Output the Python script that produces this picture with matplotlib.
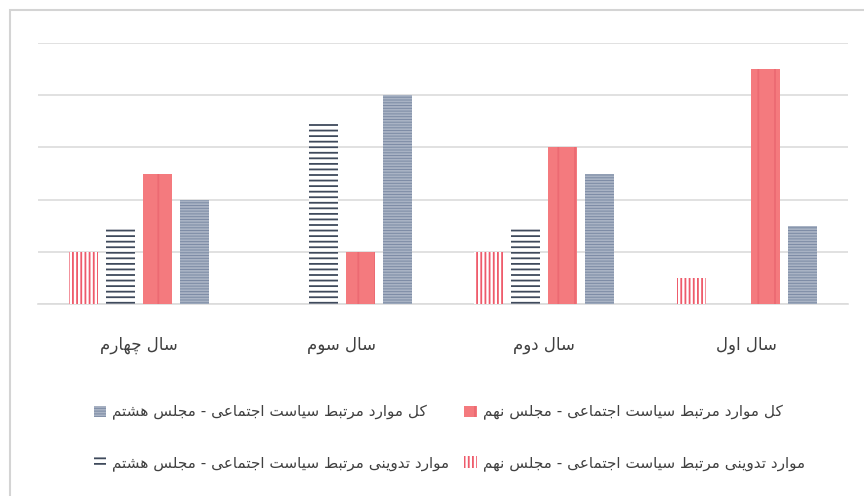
"""Grouped bar chart: social-policy items, 8th vs 9th Majlis, by year."""

import matplotlib

matplotlib.use("Agg")
import matplotlib.pyplot as plt
import numpy as np
from matplotlib.patches import Rectangle

# categories, left to right as drawn (the chart runs right-to-left)
years = ["سال چهارم", "سال سوم", "سال دوم", "سال اول"]

# series values (grid step = 2)
drafted_9th = [2, 0, 2, 1]   # موارد تدوینی - مجلس نهم
drafted_8th = [3, 7, 3, 0]   # موارد تدوینی - مجلس هشتم
total_9th = [5, 2, 6, 9]     # کل موارد - مجلس نهم
total_8th = [4, 8, 5, 3]     # کل موارد - مجلس هشتم

label_total_8th = "کل موارد مرتبط سیاست اجتماعی - مجلس هشتم"
label_total_9th = "کل موارد مرتبط سیاست اجتماعی - مجلس نهم"
label_drafted_8th = "موارد تدوینی مرتبط سیاست اجتماعی - مجلس هشتم"
label_drafted_9th = "موارد تدوینی مرتبط سیاست اجتماعی - مجلس نهم"

# Arabic presentation forms: isolated, final, initial, medial
FORMS = {
    "ا": ("\uFE8D", "\uFE8E", None, None),
    "د": ("\uFEA9", "\uFEAA", None, None),
    "ر": ("\uFEAD", "\uFEAE", None, None),
    "و": ("\uFEED", "\uFEEE", None, None),
    "ب": ("\uFE8F", "\uFE90", "\uFE91", "\uFE92"),
    "ت": ("\uFE95", "\uFE96", "\uFE97", "\uFE98"),
    "ج": ("\uFE9D", "\uFE9E", "\uFE9F", "\uFEA0"),
    "چ": ("\uFB7A", "\uFB7B", "\uFB7C", "\uFB7D"),
    "س": ("\uFEB1", "\uFEB2", "\uFEB3", "\uFEB4"),
    "ش": ("\uFEB5", "\uFEB6", "\uFEB7", "\uFEB8"),
    "ط": ("\uFEC1", "\uFEC2", "\uFEC3", "\uFEC4"),
    "ع": ("\uFEC9", "\uFECA", "\uFECB", "\uFECC"),
    "ک": ("\uFB8E", "\uFB8F", "\uFB90", "\uFB91"),
    "ل": ("\uFEDD", "\uFEDE", "\uFEDF", "\uFEE0"),
    "م": ("\uFEE1", "\uFEE2", "\uFEE3", "\uFEE4"),
    "ن": ("\uFEE5", "\uFEE6", "\uFEE7", "\uFEE8"),
    "ه": ("\uFEE9", "\uFEEA", "\uFEEB", "\uFEEC"),
    "ی": ("\uFBFC", "\uFBFD", "\uFBFE", "\uFBFF"),
}


def fa(text):
    """Shape Persian letters and put them in visual (left-to-right) order."""
    out = []
    for i, ch in enumerate(text):
        if ch not in FORMS:
            out.append(ch)
            continue
        prev = text[i - 1] if i > 0 else ""
        nxt = text[i + 1] if i + 1 < len(text) else ""
        joins_prev = prev in FORMS and FORMS[prev][2] is not None
        joins_next = nxt in FORMS and FORMS[ch][2] is not None
        iso, fin, ini, med = FORMS[ch]
        if joins_prev and joins_next:
            out.append(med)
        elif joins_prev:
            out.append(fin)
        elif joins_next:
            out.append(ini)
        else:
            out.append(iso)
    return "".join(reversed(out))


RED = "#F47A7E"
RED_LINE = "#EE5A6A"
NAVY = "#7B8AA4"
NAVY_LINE = "#3F4A5C"
TEXT = "#404040"
GRID = "#DCDCDC"

plt.rcParams["font.family"] = ["DejaVu Sans"]
plt.rcParams["hatch.linewidth"] = 1.3

fig = plt.figure(figsize=(8.64, 4.96), dpi=100)
ax = fig.add_axes([38 / 864, 1 - 304 / 496, 810 / 864, 261 / 496])

x = np.arange(len(years))
width = 0.143
step = 0.183

b1 = ax.bar(x - 1.5 * step, drafted_9th, width, facecolor="white",
            edgecolor=RED_LINE, linewidth=0, hatch="||||", zorder=3)
b2 = ax.bar(x - 0.5 * step, drafted_8th, width, facecolor="white",
            edgecolor=NAVY_LINE, linewidth=0, hatch="---", zorder=3)
b3 = ax.bar(x + 0.5 * step, total_9th, width, facecolor=RED,
            edgecolor="#EC6A72", linewidth=0, hatch="|", zorder=3)
b4 = ax.bar(x + 1.5 * step, total_8th, width, facecolor=NAVY,
            edgecolor="#A9B3C4", linewidth=0, hatch="------", zorder=3)

ax.set_xlim(-0.5, len(years) - 0.5)
ax.set_ylim(0, 10)
ax.set_yticks(np.arange(0, 11, 2))
ax.yaxis.grid(True, color=GRID, linewidth=1.2, zorder=0)
ax.tick_params(axis="y", left=False, labelleft=False)
ax.set_xticks(x)
ax.set_xticklabels([fa(y) for y in years], fontsize=12, color=TEXT)
ax.tick_params(axis="x", length=0, pad=23)
for side in ["top", "right", "left"]:
    ax.spines[side].set_visible(False)
ax.spines["bottom"].set_color(GRID)
ax.spines["bottom"].set_linewidth(1.2)
ax.set_facecolor("none")

fig.legend(
    [b4, b2, b3, b1],
    [fa(label_total_8th), fa(label_drafted_8th), fa(label_total_9th), fa(label_drafted_9th)],
    loc="upper left",
    bbox_to_anchor=(80 / 864, 1 - 391 / 496),
    ncol=2,
    frameon=False,
    fontsize=11,
    labelcolor=TEXT,
    handlelength=0.8,
    handleheight=0.8,
    handletextpad=0.4,
    labelspacing=2.3,
    columnspacing=1.0,
)

# chart border
fig.add_artist(Rectangle((10 / 864, -0.1), 1.0, 1 - 10 / 496 + 0.1,
                         transform=fig.transFigure, fill=False,
                         edgecolor="#D4D4D4", linewidth=1.5))

fig.savefig("out.png", dpi=100)
